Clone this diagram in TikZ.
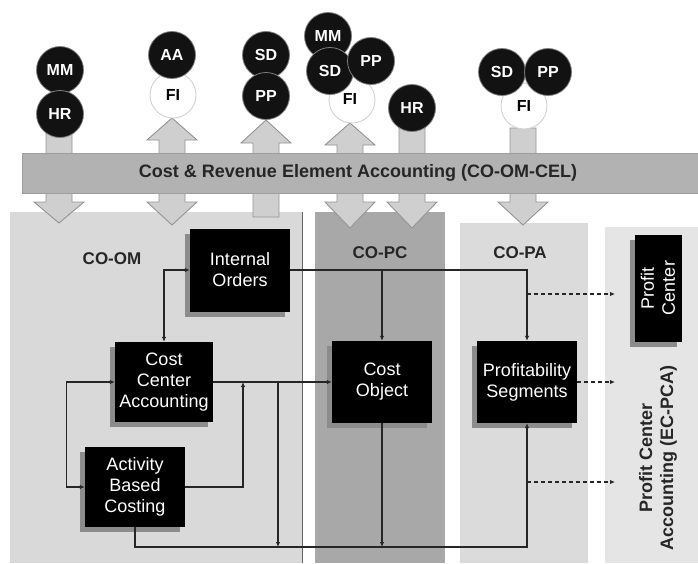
\documentclass[tikz,border=0pt]{standalone}
\usepackage{fontspec}
\setmainfont{Liberation Sans}
\usetikzlibrary{arrows.meta,shadows,calc}
\newcommand\DownArr[4]{% cx, shaft top, head base, tip
  \draw[bigarrow] (#1-13,#2) -- (#1+13,#2) -- (#1+13,#3) -- (#1+25,#3) -- (#1,#4) -- (#1-25,#3) -- (#1-13,#3) -- cycle;}
\newcommand\UpArr[4]{% cx, tip, head base, shaft bottom
  \draw[bigarrow] (#1,#2) -- (#1+25,#3) -- (#1+13,#3) -- (#1+13,#4) -- (#1-13,#4) -- (#1-13,#3) -- (#1-25,#3) -- cycle;}
\newcommand\BothArr[5]{% cx, tip up, head base up, head base down, tip down
  \draw[bigarrow] (#1,#2) -- (#1+25,#3) -- (#1+13,#3) -- (#1+13,#4) -- (#1+25,#4) -- (#1,#5) -- (#1-25,#4) -- (#1-13,#4) -- (#1-13,#3) -- (#1-25,#3) -- cycle;}
\begin{document}
\begin{tikzpicture}[x=1pt,y=-1pt,
  bigarrow/.style={fill=black!19, draw=black!42, line width=0.9pt},
  dcirc/.style={circle, fill=black!93, draw=black!50, line width=0.8pt, minimum size=47pt, inner sep=0pt, text=white, font=\bfseries\fontsize{16}{16}\selectfont},
  wcirc/.style={circle, fill=white, draw=black!18, line width=0.9pt, minimum size=46pt, inner sep=0pt, text=black, font=\bfseries\fontsize{16}{16}\selectfont},
  blackbox/.style={fill=black, text=white, minimum width=100pt, minimum height=82pt, inner sep=0pt, align=center, font=\fontsize{18}{21}\selectfont, drop shadow={shadow xshift=-5pt, shadow yshift=-5pt, fill=black!45, opacity=1}},
  panellabel/.style={font=\bfseries\fontsize{17}{20}\selectfont, text=black!85},
  conn/.style={draw=black!85, line width=1.1pt, -{Latex[length=5pt,width=4.5pt]}},
  conn2/.style={draw=black!85, line width=1.1pt, {Latex[length=5pt,width=4.5pt]}-{Latex[length=5pt,width=4.5pt]}},
  dconn/.style={draw=black!85, line width=1.3pt, dash pattern=on 4pt off 3pt, -{Latex[length=5pt,width=4.5pt]}}
]
\useasboundingbox (0,0) rectangle (698,563);
\fill[white] (0,0) rectangle (698,563);
% panels
\fill[black!15] (10,212) rectangle (302,563);
\draw[black!60, line width=1pt] (302,212) -- (302,563);
\fill[black!34] (315,212) rectangle (445,563);
\fill[black!14] (460,223) rectangle (588,563);
\fill[black!10] (605,227) rectangle (698,563);
% big arrows
\DownArr{59}{128}{202}{223}
\BothArr{172}{118}{140}{202}{225}
\UpArr{266}{120}{143}{217}
\BothArr{350}{123}{145}{202}{228}
\DownArr{412}{128}{202}{228}
\DownArr{523}{128}{202}{225}
% bar
\node[fill=black!30, draw=black!38, line width=0.8pt, minimum width=676pt, minimum height=40pt, anchor=north west, inner sep=0pt] (cel) at (22,153) {};
\node[font=\bfseries\fontsize{18}{20}\selectfont, text=black!85] (celtxt) at (358,173) {Cost \& Revenue Element Accounting (CO-OM-CEL)};
% circles
\node[dcirc] (mm1) at (60,70) {MM};
\node[dcirc] (hr1) at (60,114) {HR};
\node[wcirc] (fi2) at (173,95) {FI};
\node[dcirc] (aa2) at (172,55) {AA};
\node[dcirc] (sd3) at (266,55) {SD};
\node[dcirc] (pp3) at (266,96) {PP};
\node[wcirc] (fi4) at (352,100) {};
\node[font=\bfseries\fontsize{16}{16}\selectfont] (fi4t) at (350,99) {FI};
\node[dcirc] (mm4) at (328,36) {MM};
\node[dcirc] (sd4) at (330,71) {SD};
\node[dcirc] (pp4) at (371,61) {PP};
\node[dcirc] (hr5) at (412,108) {HR};
\node[wcirc] (fi6) at (524,106) {FI};
\node[dcirc] (sd6) at (502,72) {SD};
\node[dcirc] (pp6) at (548,72) {PP};
% panel labels
\node[panellabel] (coom) at (112,259) {CO-OM};
\node[panellabel] (copc) at (380,253) {CO-PC};
\node[panellabel] (copa) at (520,253) {CO-PA};
\node[font=\bfseries\fontsize{18}{21}\selectfont, text=black!85, rotate=90, align=center] (ecpca) at (658,458) {Profit Center\\Accounting (EC-PCA)};
% boxes
\node[blackbox, minimum height=83pt] (io) at (240,270) {Internal\\Orders};
\node[blackbox, minimum width=98pt, minimum height=80pt] (cca) at (164,382) {Cost\\Center\\Accounting};
\node[blackbox, minimum height=80pt] (abc) at (135,487) {Activity\\Based\\Costing};
\node[blackbox] (co) at (382,382) {Cost\\Object};
\node[blackbox] (ps) at (527,382) {Profitability\\Segments};
\node[blackbox, minimum width=47pt, minimum height=107pt] (pc) at (658,288) {};
\node[text=white, rotate=90, align=center, font=\fontsize{18}{21}\selectfont] (pctxt) at (pc.center) {Profit\\Center};
% coordinates
\coordinate (j1) at (243,382);
\coordinate (j2) at (278,382);
\coordinate (j3) at (278,547);
\coordinate (bot) at (527,547);
\coordinate (cob) at (382,547);
\coordinate (d1s) at (527,294);
\coordinate (d1e) at (615,294);
\coordinate (d2e) at (615,382);
\coordinate (d3s) at (527,482);
\coordinate (d3e) at (615,482);
% connectors
\draw[conn2] (cca.north) |- (io.west);
\draw[conn] (io.east) -| (ps.north);
\draw[conn] (co.north |- io.east) -- (co.north);
\draw[conn] (cca.east) -- (co.west);
\draw[conn] (abc.east) -| (j1);
\draw[conn] (j2) -- (j3);
\draw[conn2] (cca.west) -- ++(-48,0) |- (abc.west);
\draw[conn] (abc.south) |- (bot) -- (ps.south);
\draw[conn] (co.south) -- (cob);
\draw[dconn] (d1s) -- (d1e);
\draw[dconn] (ps.east) -- (d2e);
\draw[dconn] (d3s) -- (d3e);
\end{tikzpicture}
\end{document}
